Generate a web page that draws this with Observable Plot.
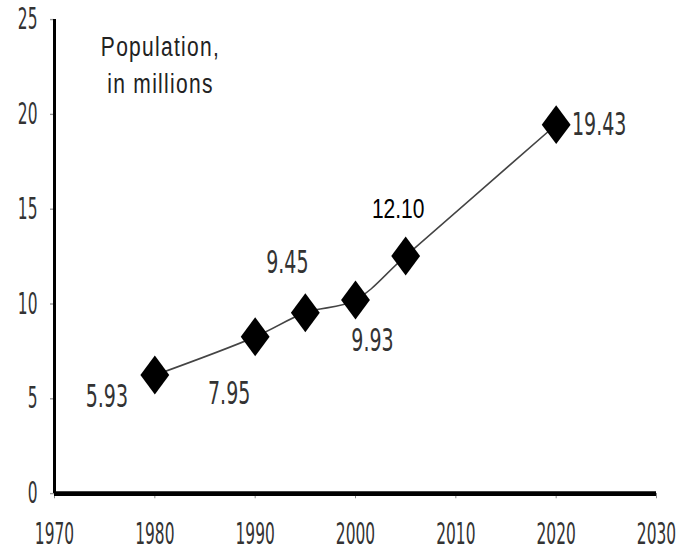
<!DOCTYPE html>
<html><head><meta charset="utf-8">
<script src="https://cdn.jsdelivr.net/npm/d3@7"></script>
<script src="https://cdn.jsdelivr.net/npm/@observablehq/plot@0.6"></script>
<style>html,body{margin:0;padding:0;background:#fff} #chart svg{display:block}</style>
</head><body><div id="chart"></div>
<script>
// Data
const years = [1980, 1990, 1995, 2000, 2005, 2020];
const populations = [6.25, 8.27, 9.54, 10.21, 12.53, 19.46];
const valueLabels = ["5.93", "7.95", "9.45", "9.93", "12.10", "19.43"];
const xTicks = [1970, 1980, 1990, 2000, 2010, 2020, 2030];
const yTicks = [0, 5, 10, 15, 20, 25];
const titleLines = ["Population,", "in millions"];

const data = years.map((year, i) => ({year, pop: populations[i], label: valueLabels[i]}));

// label placement around each marker (dx, dy in px)
const labelOffsets = [[-48, 16], [-26, 42], [-18, -37], [17, 30], [-7.5, -35], [43, 0]];
const narrow = '"Liberation Sans Narrow", "Arial Narrow", "DejaVu Sans Condensed", sans-serif';
const regular = '"Liberation Sans", Arial, sans-serif';

const W = 679, H = 408, FINAL_H = 551;

const chart = Plot.plot({
  width: W, height: H,
  marginLeft: 54, marginRight: 23, marginTop: 14, marginBottom: 43,
  style: {background: "#fff", fontFamily: narrow, fontSize: "22px", color: "#333"},
  x: {domain: [1970, 2030]},
  y: {domain: [0, 25]},
  marks: [
    Plot.axisX({ticks: xTicks, tickFormat: "d", tickSize: 4, tickPadding: 18, label: null, color: "#333", stroke: "#888", className: "cond-tick"}),
    Plot.axisY({ticks: yTicks, tickSize: 4, tickPadding: 13, label: null, color: "#333", stroke: "#999", className: "cond-tick"}),
    Plot.ruleX([1970], {y1: 0, y2: 25, stroke: "#000", strokeWidth: 3}),
    Plot.ruleY([0], {x1: 1970, x2: 2030, stroke: "#000", strokeWidth: 3.5}),
    Plot.line(data, {x: "year", y: "pop", curve: "catmull-rom", stroke: "#444", strokeWidth: 1.3}),
    Plot.dot(data, {x: "year", y: "pop", symbol: "diamond2", r: 13, fill: "#000", stroke: "none"}),
    ...data.map((d, i) => Plot.text([d], {
      x: "year", y: "pop", text: "label",
      dx: labelOffsets[i][0], dy: labelOffsets[i][1],
      fontSize: i === 4 ? 21 : 24,
      fontFamily: i === 4 ? regular : narrow,
      fill: i === 4 ? "#000" : "#333",
      className: i === 4 ? "plain-label" : "cond-label"
    })),
    Plot.text([titleLines.join("\n")], {
      frameAnchor: "top-left", dx: 106, dy: 8, lineAnchor: "top", textAnchor: "middle",
      lineHeight: 1.29, fontSize: 21, fontFamily: regular, fill: "#222"
    })
  ]
});

// The reference is vertically stretched; reproduce by stretching the viewBox
chart.setAttribute("preserveAspectRatio", "none");
chart.setAttribute("width", W);
chart.setAttribute("height", FINAL_H);
chart.style.width = W + "px";
chart.style.height = FINAL_H + "px";
chart.style.maxWidth = "none";
d3.select(chart).selectAll("text")
  .filter(function() { return this.textContent.includes("Population"); })
  .attr("letter-spacing", "1.3px");

// condensed-looking digits: squeeze horizontally around each text's anchor
function squeeze(sel, k) {
  d3.select(chart).selectAll(sel).each(function() {
    const t = this.getAttribute("transform");
    if (t) this.setAttribute("transform", t + ` scale(${k},1)`);
  });
}
squeeze(".cond-tick text", 0.78);
squeeze(".cond-label text", 0.88);
document.getElementById("chart").appendChild(chart);
</script>
</body></html>
